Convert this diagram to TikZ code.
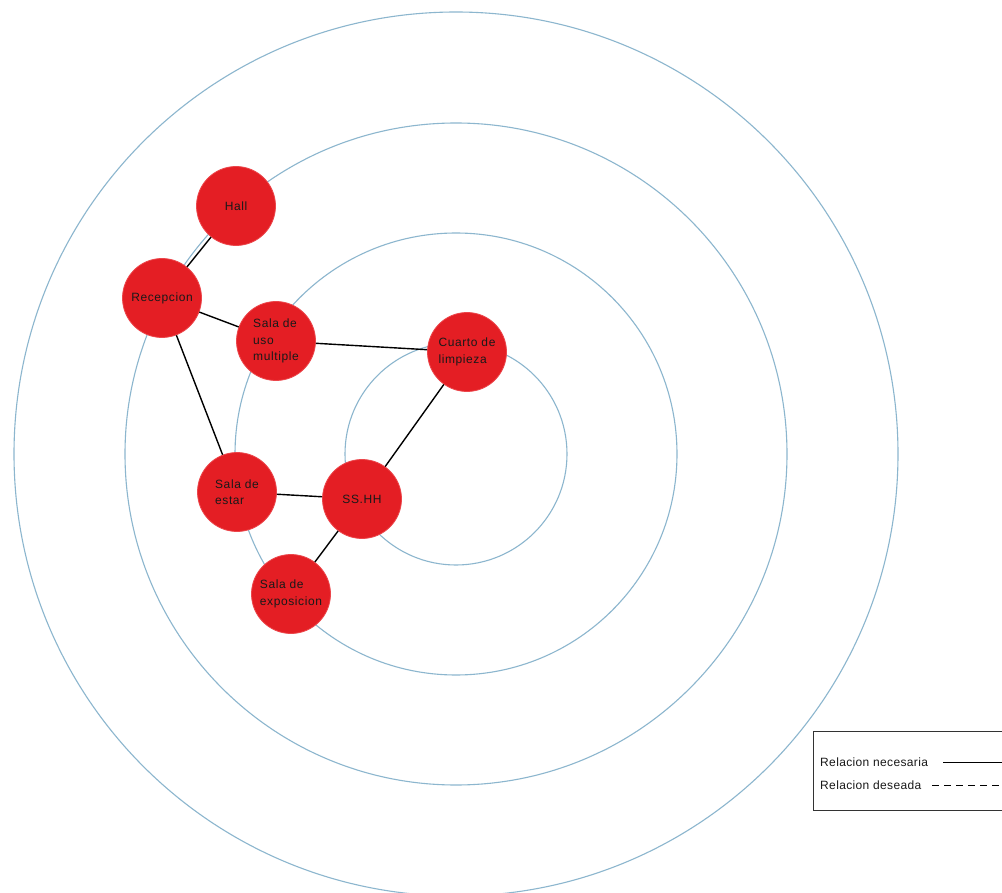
\documentclass[tikz,border=0pt]{standalone}
\usepackage{fontspec}
\setmainfont{Liberation Sans}
\newfontfamily\nodefont[LetterSpace=5]{Liberation Sans}
\newfontfamily\legfont[LetterSpace=3]{Liberation Sans}
\definecolor{ringblue}{RGB}{140,182,206}
\definecolor{roomred}{RGB}{228,30,36}
\definecolor{roomedge}{RGB}{236,70,75}
\begin{document}
\begin{tikzpicture}[x=1pt,y=-1pt,
  ring/.style={draw=ringblue,line width=1.1pt},
  room/.style={circle,fill=roomred,draw=roomedge,line width=0.8pt,minimum size=79pt,inner sep=0pt,
    align=left,font=\nodefont\fontsize{12}{16.5}\selectfont,text=black!90},
  rel/.style={draw=black,line width=1.4pt},
  legtext/.style={anchor=west,inner sep=0pt,font=\legfont\fontsize{12}{14}\selectfont,text=black!90}]
\useasboundingbox (0,0) rectangle (1002,893);
\fill[white] (0,0) rectangle (1002,893);
% rings
\coordinate (c) at (456,454);
\draw[ring] (c) circle[radius=442];
\draw[ring] (c) circle[radius=331];
\draw[ring] (c) circle[radius=221];
\draw[ring] (c) circle[radius=111];
% rooms
\node[room] (hall) at (236,206) {Hall};
\node[room] (rec) at (162,298) {Recepcion};
\node[room] (sum) at (276,341) {Sala de\\uso\\multiple};
\node[room] (cua) at (467,352) {Cuarto de\\limpieza};
\node[room] (est) at (237,492) {Sala de\\estar};
\node[room] (ss) at (362,499) {SS.HH};
\node[room] (exp) at (291,594) {Sala de\\exposicion};
% relations
\draw[rel] (hall) -- (rec);
\draw[rel] (rec) -- (sum);
\draw[rel] (rec) -- (est);
\draw[rel] (sum) -- (cua);
\draw[rel] (cua) -- (ss);
\draw[rel] (est) -- (ss);
\draw[rel] (ss) -- (exp);
% legend
\draw[line width=1pt,draw=black!80] (813,731) rectangle (1012,810);
\node[legtext] (ln) at (820,762) {Relacion necesaria};
\node[legtext] (ld) at (820,785) {Relacion deseada};
\coordinate (lnA) at (943,762);
\coordinate (lnB) at (1002,762);
\coordinate (ldA) at (932,785);
\coordinate (ldB) at (1002,785);
\draw[line width=1pt] (lnA) -- (lnB);
\draw[line width=1pt,dash pattern=on 7pt off 5pt] (ldA) -- (ldB);
\end{tikzpicture}
\end{document}
